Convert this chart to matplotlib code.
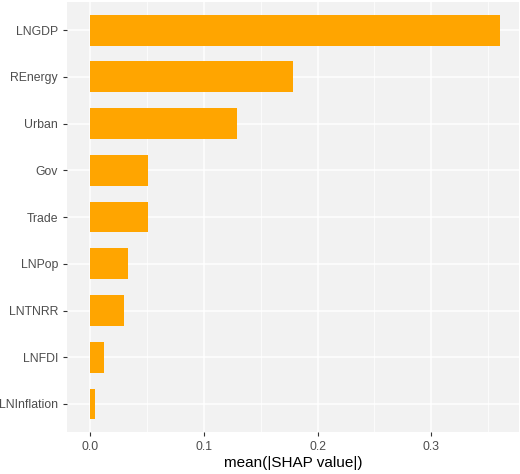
import matplotlib
matplotlib.use("Agg")
import matplotlib.pyplot as plt

plt.rcParams["font.family"] = ["Liberation Sans", "DejaVu Sans"]

features = ["LNGDP", "REnergy", "Urban", "Gov", "Trade", "LNPop", "LNTNRR", "LNFDI", "LNInflation"]
values = [0.360, 0.1786, 0.129, 0.051, 0.051, 0.0334, 0.0296, 0.012, 0.0047]

fig = plt.figure(figsize=(5.2, 4.74), dpi=100)
ax = fig.add_axes([0.129, 0.0886, 0.869, 0.907])
ax.set_facecolor("#F2F2F2")
n = len(features)
ys = list(range(n - 1, -1, -1))
ax.barh(ys, values, height=0.66, color="#FFA500", zorder=3)
ax.set_yticks(ys)
ax.set_yticklabels(features)
ax.set_xticks([0.0, 0.1, 0.2, 0.3])
ax.set_xticklabels(["0.0", "0.1", "0.2", "0.3"])
ax.set_xticks([0.05, 0.15, 0.25, 0.35], minor=True)
ax.set_xlim(-0.0202, 0.377)
ax.set_ylim(-0.6, n - 1 + 0.6)
ax.grid(True, which="major", color="white", linewidth=1.1, zorder=0)
ax.grid(True, which="minor", axis="x", color="white", linewidth=0.55, zorder=0)
for s in ax.spines.values():
    s.set_visible(False)
ax.tick_params(axis="both", which="major", labelsize=8.8, length=3, width=0.8,
               labelcolor="#4D4D4D", color="#333333")
ax.tick_params(axis="both", which="minor", length=0)
ax.set_xlabel("mean(|SHAP value|)", fontsize=11, color="black", labelpad=2)
fig.savefig("out.png", dpi=100)
